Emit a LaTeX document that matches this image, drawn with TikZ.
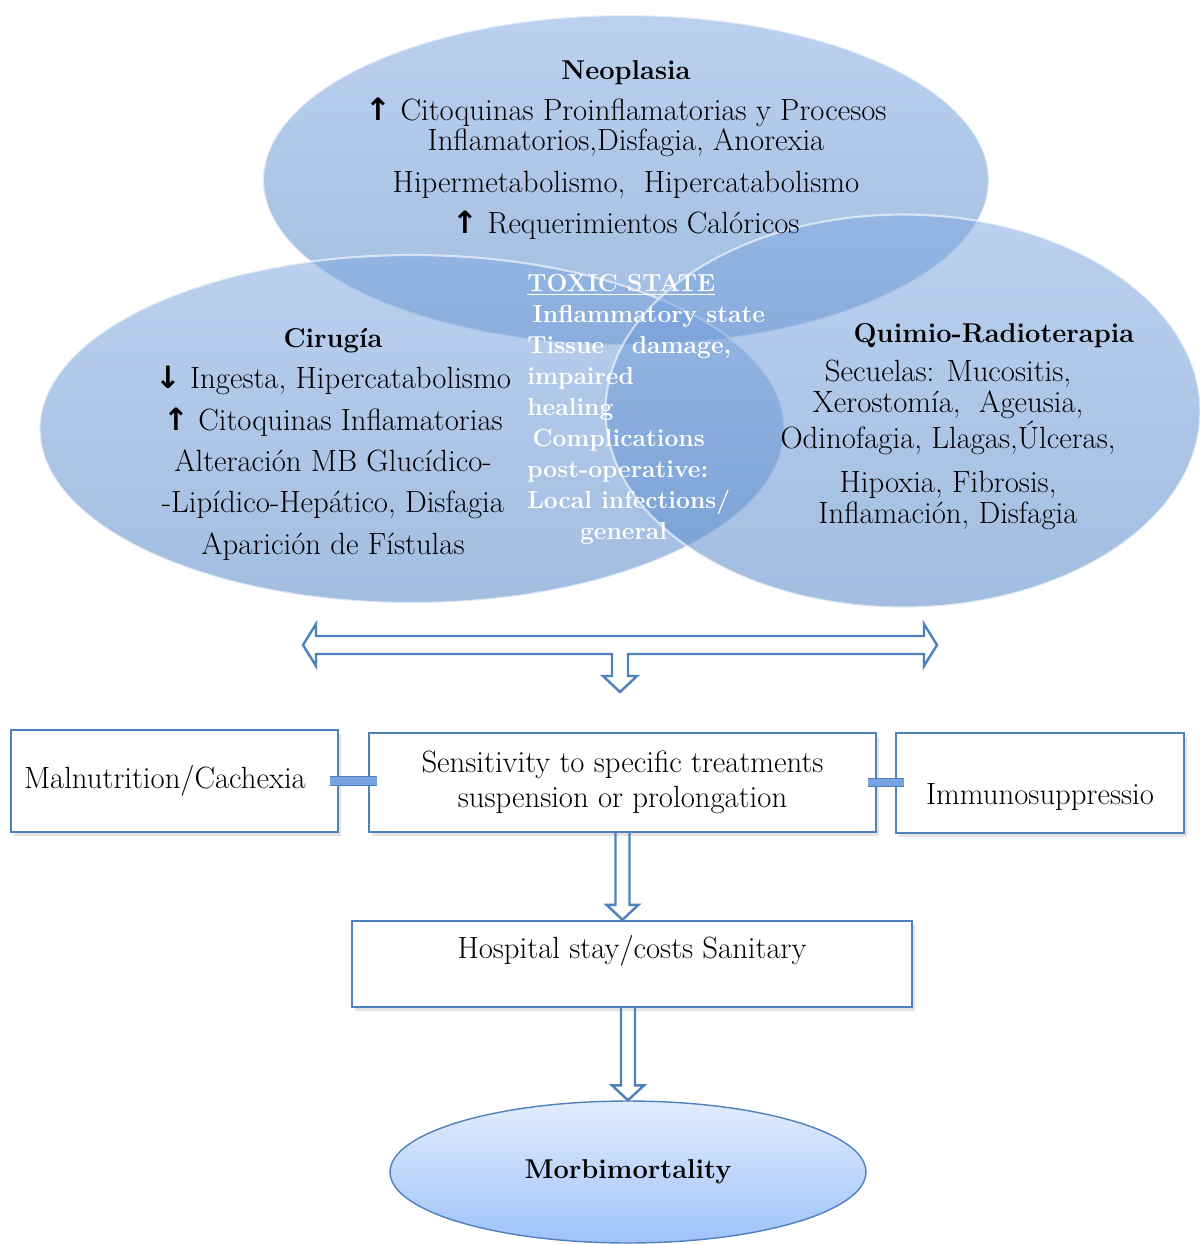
\documentclass[tikz,border=0pt]{standalone}
\usepackage{fontspec}
\newfontfamily\arrowfont{DejaVu Sans}
\usetikzlibrary{shapes.geometric,shadows,calc}
\definecolor{OfficeBlue}{RGB}{79,129,189}
\definecolor{VennTop}{RGB}{130,170,225}
\definecolor{VennBottom}{RGB}{85,135,200}
\definecolor{LinkBlue}{RGB}{120,165,225}
\definecolor{MorbTop}{RGB}{226,236,252}
\definecolor{MorbBottom}{RGB}{158,194,250}
\newcommand{\upar}{{\arrowfont\bfseries ↑}}
\newcommand{\downar}{{\arrowfont\bfseries ↓}}
\newcommand{\ttl}[1]{{\fontsize{15.5}{16}\selectfont\bfseries #1}}
% hollow block arrow pointing down, from #1 to tip #2
\newcommand{\hollowdown}[2]{%
  \draw[hollow] ($(#1)+(-7,0)$) -- ($(#2)+(-7,-15)$) -- ($(#2)+(-16,-15)$) -- (#2)
    -- ($(#2)+(16,-15)$) -- ($(#2)+(7,-15)$) -- ($(#1)+(7,0)$);}

\begin{document}
\begin{tikzpicture}[x=0.02cm, y=-0.02cm,
    blob/.style={ellipse, inner sep=0pt, top color=VennTop, bottom color=VennBottom, fill opacity=0.55, draw=white, draw opacity=0.6, line width=1.2pt},
    etxt/.style={align=center, anchor=base, inner sep=0pt, font=\fontsize{17.5}{17.2}\selectfont},
    box/.style={draw=OfficeBlue, line width=1.4pt, fill=white, inner sep=0pt, align=center, font=\fontsize{17.5}{19.8}\selectfont, drop shadow={shadow xshift=1.5pt, shadow yshift=-2pt, opacity=0.22}},
    link/.style={draw=OfficeBlue, line width=0.6pt, double=LinkBlue, double distance=4pt, shorten <=-5pt, shorten >=-5pt},
    hollow/.style={draw=OfficeBlue, line width=1.4pt, line join=miter}
]
    \useasboundingbox (0,0) rectangle (1202,1244);

    \node[blob, minimum width=14.52cm, minimum height=6.6cm] (neo) at (626,180) {};
    \node[blob, minimum width=14.9cm, minimum height=6.96cm] (cir) at (412,429) {};
    \node[blob, minimum width=11.9cm, minimum height=7.86cm] (qr) at (903,411) {};

    \node[etxt] (neotxt) at (626,233) {\ttl{Neoplasia}\\[6pt] \upar\ Citoquinas Proinflamatorias y Procesos\\ Inflamatorios,Disfagia, Anorexia\\[6.4pt] Hipermetabolismo,\ \ Hipercatabolismo\\[6pt] \upar\ Requerimientos Calóricos};
    \node[etxt, font=\fontsize{17.5}{23.5}\selectfont] (cirtxt) at (333,554) {\ttl{Cirugía}\\ \downar\ Ingesta, Hipercatabolismo\\ \upar\ Citoquinas Inflamatorias\\ Alteración MB Glucídico-\\ -Lipídico-Hepático, Disfagia\\ Aparición de Fístulas};
    \node[etxt] (qrtitle) at (994,342) {\ttl{Quimio-Radioterapia}};
    \node[etxt, font=\fontsize{17.5}{17.6}\selectfont] (qrtxt) at (948,523) {Secuelas: Mucositis,\\ Xerostomía,\ \ Ageusia,\\ Odinofagia, Llagas,Úlceras,\\[7.4pt] Hipoxia, Fibrosis,\\ Inflamación, Disfagia};
    \node[etxt, anchor=base west, align=left, text=white, font=\fontsize{14}{17.6}\selectfont\bfseries] (toxic) at (527,539) {\underline{TOXIC STATE}\\ \hspace*{3pt}Inflammatory state\\ Tissue\ \ \ damage,\\ impaired\\ healing\\ \hspace*{3pt}Complications\\ post-operative:\\ Local infections/\\ \hspace*{30pt}general};

    \draw[hollow] (303,645) -- (316,624) -- (316,636) -- (924,636) -- (924,624) -- (937,645) -- (924,666) -- (924,654) -- (628,654) -- (628,676) -- (637,676) -- (620,692) -- (603,676) -- (612,676) -- (612,654) -- (316,654) -- (316,666) -- cycle;

    \node[box, minimum width=6.54cm, minimum height=2.04cm, text width=6.02cm, inner xsep=0.26cm, align=left] (mal) at (174.5,781) {Malnutrition/Cachexia};
    \node[box, minimum width=10.14cm, minimum height=1.98cm] (sens) at (622.5,782.5) {Sensitivity to specific treatments\\ suspension or prolongation};
    \node[box, minimum width=5.76cm, minimum height=2cm, text height=25pt, text depth=0pt] (imm) at (1040,783) {Immunosuppressio};
    \node[box, minimum width=11.2cm, minimum height=1.72cm, text height=12pt, text depth=18.8pt] (hosp) at (632,964) {Hospital stay/costs Sanitary};
    \node[ellipse, inner sep=0pt, minimum width=9.52cm, minimum height=2.84cm, draw=OfficeBlue, line width=0.8pt, top color=MorbTop, bottom color=MorbBottom, font=\fontsize{15.5}{18}\selectfont\bfseries] (morb) at (628,1172) {Morbimortality};

    \draw[link] (mal.east) -- (mal.east -| sens.west);
    \draw[link] (sens.east) -- (sens.east -| imm.west);

    \hollowdown{sens.south}{sens.south |- hosp.north}
    \hollowdown{hosp.south -| morb.north}{morb.north}
\end{tikzpicture}
\end{document}
